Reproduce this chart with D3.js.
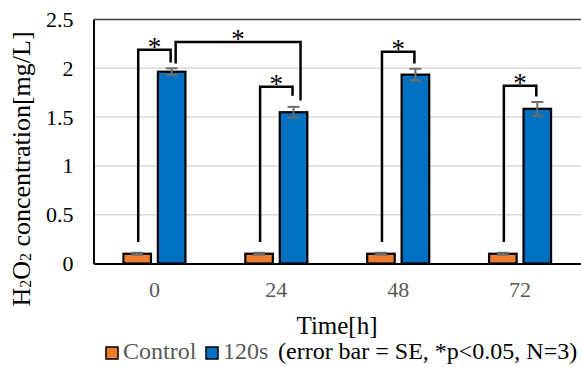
<!DOCTYPE html>
<html>
<head>
<meta charset="utf-8">
<script src="https://cdn.jsdelivr.net/npm/d3@7"></script>
<style>
  body { margin: 0; background: #fff; }
</style>
</head>
<body>
<div id="chart"></div>
<script>
// 数据
const categories = ['0', '24', '48', '72'];
const seriesNames = ['Control', '120s'];
const controlValues = [0.1, 0.1, 0.1, 0.1];
const controlErrors = [0.01, 0.01, 0.01, 0.01];
const treatedValues = [1.965, 1.55, 1.935, 1.585];
const treatedErrors = [0.035, 0.055, 0.06, 0.07];
const yTicks = [0, 0.5, 1, 1.5, 2, 2.5];
// 显著性标注: 起止柱 (类别, 系列), 横线高度, 两端竖线的下端
const bracketFrom = [['0', 'Control'], ['0', '120s'], ['24', 'Control'], ['48', 'Control'], ['72', 'Control']];
const bracketTo = [['0', '120s'], ['24', '120s'], ['24', '120s'], ['48', '120s'], ['72', '120s']];
const bracketTop = [2.19, 2.27, 1.81, 2.17, 1.82];
const bracketLeftEnd = [0.22, 2.05, 0.22, 0.22, 0.22];
const bracketRightEnd = [2.06, 1.67, 1.72, 2.05, 1.71];

const width = 581, height = 367;
const FONT = '"Liberation Serif"';
const colors = { 'Control': '#ed7d31', '120s': '#0070c0' };

const svg = d3.select('#chart').append('svg')
    .attr('width', width)
    .attr('height', height);

const x0 = d3.scaleBand().domain(categories).range([93.5, 581]);
const x1 = d3.scaleBand().domain(seriesNames)
    .range([x0.bandwidth() / 2 - 31, x0.bandwidth() / 2 + 31])
    .paddingInner(0.2);
const y = d3.scaleLinear().domain([0, 2.5]).range([263.5, 19.5]);

const cx = (cat, s) => x0(cat) + x1(s) + x1.bandwidth() / 2;

// 网格线
svg.append('g')
    .selectAll('line')
    .data(yTicks.filter(d => d > 0 && d < 2.5))
    .enter()
    .append('line')
    .attr('x1', 93.5).attr('x2', width)
    .attr('y1', d => y(d)).attr('y2', d => y(d))
    .attr('stroke', '#d9d9d9')
    .attr('stroke-width', 1.5);
// 顶部边框
svg.append('line')
    .attr('x1', 93.5).attr('x2', width)
    .attr('y1', y(2.5)).attr('y2', y(2.5))
    .attr('stroke', '#404040')
    .attr('stroke-width', 1.5);

// y 轴
const yAxis = svg.append('g')
    .attr('transform', 'translate(93.5,0)')
    .call(d3.axisLeft(y).tickValues(yTicks).tickSize(0).tickPadding(20).tickFormat(d3.format('')));
yAxis.select('.domain').attr('stroke', '#000').attr('stroke-width', 2);
yAxis.selectAll('text')
    .style('font-size', '22px')
    .style('font-family', FONT)
    .attr('fill', '#000');

// x 轴
const xAxis = svg.append('g')
    .attr('transform', `translate(0,${y(0)})`)
    .call(d3.axisBottom(x0).tickSize(0).tickPadding(18));
xAxis.select('.domain').attr('stroke', '#000').attr('stroke-width', 2);
xAxis.selectAll('text')
    .style('font-size', '22px')
    .style('font-family', FONT)
    .attr('fill', '#595959');

// 柱子
const rows = categories.map((c, i) => [
    { cat: c, s: 'Control', v: controlValues[i], e: controlErrors[i] },
    { cat: c, s: '120s', v: treatedValues[i], e: treatedErrors[i] },
]).flat();

svg.append('g')
    .selectAll('rect')
    .data(rows)
    .enter()
    .append('rect')
    .attr('x', d => x0(d.cat) + x1(d.s))
    .attr('y', d => y(d.v))
    .attr('width', x1.bandwidth())
    .attr('height', d => y(0) - y(d.v))
    .attr('fill', d => colors[d.s])
    .attr('stroke', '#000')
    .attr('stroke-width', 2.2);

// 误差线
const errG = svg.append('g').attr('stroke', '#6e6e6e').attr('stroke-width', 2);
rows.forEach(d => {
    const c = cx(d.cat, d.s);
    errG.append('line').attr('x1', c).attr('x2', c).attr('y1', y(d.v - d.e)).attr('y2', y(d.v + d.e));
    errG.append('line').attr('x1', c - 6).attr('x2', c + 6).attr('y1', y(d.v + d.e)).attr('y2', y(d.v + d.e));
    errG.append('line').attr('x1', c - 6).attr('x2', c + 6).attr('y1', y(d.v - d.e)).attr('y2', y(d.v - d.e));
});

// 显著性括号
const brG = svg.append('g');
bracketFrom.forEach((f, i) => {
    const t = bracketTo[i];
    // 跨类别的括号两端往右偏, 避开短括号
    const cross = f[0] !== t[0];
    const xl = cx(f[0], f[1]) + (cross ? 4 : 1);
    const xr = cx(t[0], t[1]) + (cross ? 7 : -1);
    const yt = y(bracketTop[i]);
    brG.append('path')
        .attr('d', `M${xl},${y(bracketLeftEnd[i])}V${yt}H${xr}V${y(bracketRightEnd[i])}`)
        .attr('fill', 'none')
        .attr('stroke', '#000')
        .attr('stroke-width', 2.5);
    brG.append('text')
        .attr('x', (xl + xr) / 2)
        .attr('y', yt + 6)
        .attr('text-anchor', 'middle')
        .style('font-family', FONT)
        .style('font-size', '27px')
        .attr('fill', '#000')
        .text('*');
});

// y 轴标题
const yTitle = svg.append('text')
    .attr('transform', 'translate(21,169) rotate(-90)')
    .attr('text-anchor', 'middle')
    .attr('dominant-baseline', 'central')
    .style('font-family', FONT)
    .style('font-size', '26px')
    .attr('fill', '#000');
yTitle.append('tspan').text('H');
yTitle.append('tspan').attr('dy', 4).style('font-size', '16px').text('2');
yTitle.append('tspan').attr('dy', -4).text('O');
yTitle.append('tspan').attr('dy', 4).style('font-size', '16px').text('2');
yTitle.append('tspan').attr('dy', -4).text(' concentration[mg/L]');

// x 轴标题
svg.append('text')
    .attr('x', 337)
    .attr('y', 334)
    .attr('text-anchor', 'middle')
    .style('font-family', FONT)
    .style('font-size', '25px')
    .attr('fill', '#000')
    .text('Time[h]');

// 图例
const legend = svg.append('g').attr('transform', 'translate(106,359)');
legend.selectAll('rect')
    .data(seriesNames)
    .enter()
    .append('rect')
    .attr('x', (d, i) => i * 100)
    .attr('y', -12)
    .attr('width', 12)
    .attr('height', 12)
    .attr('fill', d => colors[d])
    .attr('stroke', '#000')
    .attr('stroke-width', 1.5);
legend.selectAll('text.lg')
    .data(seriesNames)
    .enter()
    .append('text')
    .attr('class', 'lg')
    .attr('x', (d, i) => i * 100 + 17)
    .attr('y', 0)
    .style('font-family', FONT)
    .style('font-size', '24px')
    .attr('fill', '#595959')
    .text(d => d);
svg.append('text')
    .attr('x', 278)
    .attr('y', 359)
    .style('font-family', FONT)
    .style('font-size', '24px')
    .attr('fill', '#000')
    .text('(error bar = SE, *p<0.05, N=3)');
</script>
</body>
</html>
